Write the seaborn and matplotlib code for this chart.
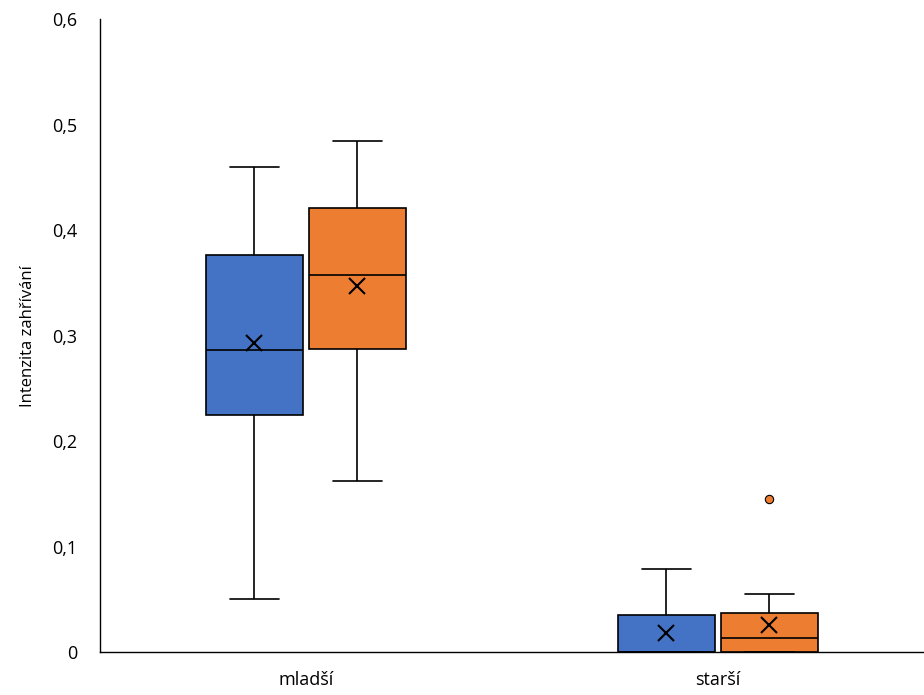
import pandas as pd
import matplotlib.pyplot as plt
import seaborn as sns
from matplotlib.ticker import FuncFormatter

# sample values chosen so quartiles, whiskers and means match the chart
young_a = [0.05, 0.20, 0.225, 0.27, 0.286, 0.34, 0.377, 0.429, 0.46]
young_b = [0.162, 0.25, 0.287, 0.33, 0.358, 0.39, 0.421, 0.44, 0.485]
old_a = [0, 0, 0, 0, 0, 0.01, 0.035, 0.038, 0.079]
old_b = [0, 0, 0, 0, 0.005, 0.01, 0.013, 0.015, 0.02, 0.037, 0.038, 0.055, 0.145]

categories = ['mladší', 'starší']
series = ['A', 'B']

rows = []
for cat, s, vals in [('mladší', 'A', young_a), ('mladší', 'B', young_b),
                     ('starší', 'A', old_a), ('starší', 'B', old_b)]:
    for v in vals:
        rows.append({'skupina': cat, 'serie': s, 'hodnota': v})
df = pd.DataFrame(rows)

sns.set_style('white')
plt.rcParams['font.family'] = ['Open Sans', 'DejaVu Sans']

fig, ax = plt.subplots(figsize=(9.24, 6.95), dpi=100)
sns.boxplot(data=df, x='skupina', y='hodnota', hue='serie', order=categories,
            palette=['#4472C4', '#ED7D31'], saturation=1, width=0.5, gap=0.06,
            linecolor='black', linewidth=1.2, showmeans=True,
            meanprops=dict(marker='x', markeredgecolor='black', markersize=11, markeredgewidth=1.5),
            flierprops=dict(marker='o', markerfacecolor='#ED7D31', markeredgecolor='black',
                            markersize=6, markeredgewidth=0.8),
            whis=1.5, legend=False, ax=ax)

ax.set_ylim(0, 0.6)
ax.set_xlim(-0.5, 1.5)
ax.set_yticks([0, 0.1, 0.2, 0.3, 0.4, 0.5, 0.6])
ax.yaxis.set_major_formatter(FuncFormatter(lambda v, p: '0' if v == 0 else f'{v:.1f}'.replace('.', ',')))
ax.set_ylabel('Intenzita zahřívání', fontsize=12, color='black', labelpad=12)
ax.set_xlabel('')
ax.tick_params(axis='both', labelsize=13, length=0, labelcolor='black')
ax.tick_params(axis='x', pad=14)
ax.tick_params(axis='y', pad=16)
for side in ['top', 'right']:
    ax.spines[side].set_visible(False)
for side in ['left', 'bottom']:
    ax.spines[side].set_color('black')
    ax.spines[side].set_linewidth(1)

fig.subplots_adjust(left=0.108, right=1.0, top=0.972, bottom=0.062)
fig.savefig('out.png')
